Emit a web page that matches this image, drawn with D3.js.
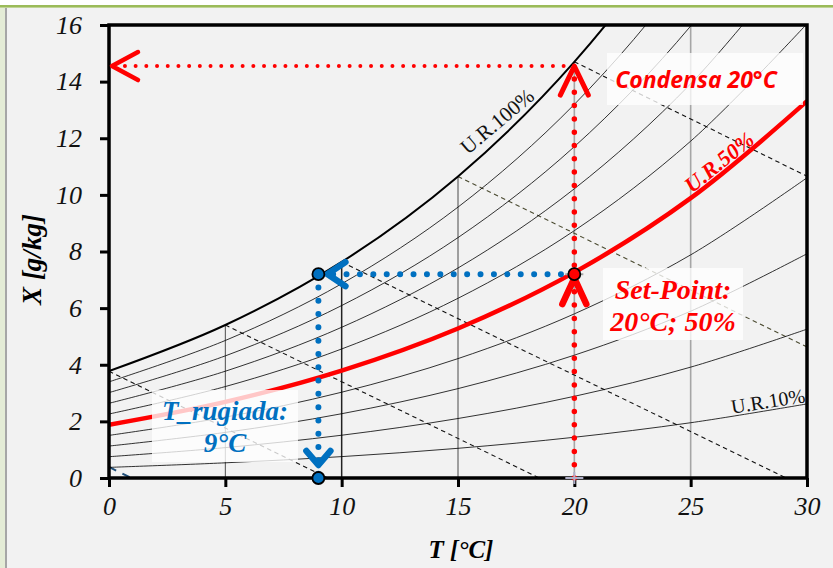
<!DOCTYPE html>
<html>
<head>
<meta charset="utf-8">
<script src="https://cdn.jsdelivr.net/npm/d3@7"></script>
<style>
body { margin: 0; background: #fff; }
</style>
</head>
<body>
<div id="chart"></div>
<script>
// temperatures (°C) at which the relative humidity curves are tabulated
const temps = [0, 5, 10, 15, 20, 25, 30];
const rhLevels = [10, 20, 30, 40, 50, 60, 70, 80, 90, 100];
// humidity ratio X [g/kg] of every U.R. curve at the temps above
const curveX = {
	10:  [0.375, 0.536, 0.755, 1.049, 1.439, 1.952, 2.617],
	20:  [0.752, 1.073, 1.511, 2.101, 2.885, 3.916, 5.257],
	30:  [1.128, 1.611, 2.270, 3.157, 4.338, 5.892, 7.920],
	40:  [1.505, 2.150, 3.030, 4.217, 5.797, 7.881, 10.604],
	50:  [1.882, 2.690, 3.793, 5.280, 7.263, 9.883, 13.312],
	60:  [2.260, 3.230, 4.557, 6.347, 8.736, 11.897, 16.043],
	70:  [2.638, 3.772, 5.323, 7.417, 10.215, 13.923, 18.798],
	80:  [3.016, 4.314, 6.091, 8.491, 11.702, 15.963, 21.576],
	90:  [3.396, 4.858, 6.860, 9.568, 13.196, 18.017, 24.379],
	100: [3.775, 5.403, 7.631, 10.650, 14.697, 20.084, 27.206]
};
const xTicks = [0, 5, 10, 15, 20, 25, 30];
const yTicks = [0, 2, 4, 6, 8, 10, 12, 14, 16];

// vertical iso-temperature lines, each stopping at the saturation curve
const isoT = [5, 10, 15, 20, 25];
const isoTop = [5.40, 7.63, 10.65, 14.70, 16];

// dashed enthalpy lines: start and end points [T, X]
const enthStart = [[0, 3.77], [5, 5.40], [10, 7.63], [15, 10.65], [20, 14.70], [0, 0.39]];
const enthEnd = [[9.4, 0], [18.5, 0], [29.1, 0], [30, 4.63], [30, 10.66], [0.95, 0]];

// process points [T, X]
const setPoint = [20, 7.2];
const dewPoint = [9, 7.2];
const dewBase = [9, 0];
const condensa = [20, 14.55];
const condensaAxis = [0, 14.55];

const width = 833, height = 568;
const margin = {top: 25, right: 26, bottom: 90, left: 109};

const svg = d3.select("#chart").append("svg")
	.attr("width", width)
	.attr("height", height);

// frame and background, like the spreadsheet chart area
svg.append("rect").attr("width", width).attr("height", height).attr("fill", "#ffffff");
svg.append("rect").attr("x", 0).attr("y", 6).attr("width", width).attr("height", height - 6).attr("fill", "#e4ecd6");
svg.append("rect").attr("x", 0).attr("y", 5).attr("width", width).attr("height", 2.5).attr("fill", "#9bbb59");
svg.append("rect").attr("x", 5).attr("y", 8).attr("width", width - 5).attr("height", height - 8).attr("fill", "#a6a6a6");
svg.append("rect").attr("x", 7).attr("y", 8).attr("width", width - 7).attr("height", height - 8).attr("fill", "#f2f2f2");

const x = d3.scaleLinear().domain([0, 30]).range([margin.left, width - margin.right]);
const y = d3.scaleLinear().domain([0, 16]).range([height - margin.bottom, margin.top]);

svg.append("clipPath").attr("id", "plotclip")
	.append("rect")
	.attr("x", x(0)).attr("y", y(16))
	.attr("width", x(30) - x(0)).attr("height", y(0) - y(16));

const plot = svg.append("g").attr("clip-path", "url(#plotclip)");

// iso-temperature lines
isoT.forEach(function (t, i) {
	plot.append("line")
		.attr("x1", x(t)).attr("x2", x(t))
		.attr("y1", y(0)).attr("y2", y(isoTop[i]))
		.attr("stroke", t >= 20 ? "#a6a6a6" : "#222")
		.attr("stroke-width", t == 10 ? 1.5 : (t >= 20 ? 1.6 : 0.8));
});

// enthalpy lines
enthStart.forEach(function (s, i) {
	const e = enthEnd[i];
	const last = i == enthStart.length - 1;
	plot.append("line")
		.attr("x1", x(s[0])).attr("y1", y(s[1]))
		.attr("x2", x(e[0])).attr("y2", y(e[1]))
		.attr("stroke", last ? "#1f4e79" : (i == 3 ? "#4a4a30" : "#111"))
		.attr("stroke-width", last ? 2 : 1.1)
		.attr("stroke-dasharray", last ? "8 7" : "4.5 3.5");
});

// relative humidity curves
const curveLine = d3.line()
	.x(function (d) { return x(d[0]); })
	.y(function (d) { return y(d[1]); })
	.curve(d3.curveCatmullRom.alpha(0.5));

rhLevels.forEach(function (rh) {
	const pts = temps.map(function (t, i) { return [t, curveX[rh][i]]; });
	plot.append("path")
		.attr("d", curveLine(pts))
		.attr("fill", "none")
		.attr("stroke", rh == 50 ? "#ff0000" : "#000")
		.attr("stroke-width", rh == 50 ? 4.5 : (rh == 100 ? 2 : 0.8));
});

// axes
const xAxis = d3.axisBottom(x).tickValues(xTicks).tickSize(9).tickFormat(d3.format("d"));
const yAxis = d3.axisLeft(y).tickValues(yTicks).tickSize(9).tickFormat(d3.format("d"));

const gx = svg.append("g").attr("transform", "translate(0," + y(0) + ")").call(xAxis);
const gy = svg.append("g").attr("transform", "translate(" + x(0) + ",0)").call(yAxis);

[gx, gy].forEach(function (g) {
	g.select(".domain").remove();
	g.selectAll(".tick line").attr("stroke", "#000").attr("stroke-width", 3);
	g.selectAll(".tick text")
		.attr("fill", "#111")
		.style("font-family", "'Liberation Serif', serif")
		.style("font-style", "italic")
		.style("font-size", "26px");
});
gx.selectAll(".tick text").attr("y", 19).attr("dy", "0.71em");
gy.selectAll(".tick text").attr("x", -27).attr("dy", "0.32em");

// plot border
svg.append("path")
	.attr("d", "M" + x(0) + "," + y(0) + "V" + y(16) + "H" + x(30) + "V" + y(0) + "Z")
	.attr("fill", "none")
	.attr("stroke", "#000")
	.attr("stroke-width", 3.5);

// axis titles
svg.append("text")
	.attr("transform", "translate(" + (x(0) - 68) + "," + ((y(0) + y(16)) / 2 + 8) + ") rotate(-90)")
	.attr("text-anchor", "middle")
	.style("font-family", "'Liberation Serif', serif")
	.style("font-style", "italic")
	.style("font-weight", "bold")
	.style("font-size", "27px")
	.text("X [g/kg]");

svg.append("text")
	.attr("x", (x(0) + x(30)) / 2 + 3)
	.attr("y", 558)
	.attr("text-anchor", "middle")
	.style("font-family", "'Liberation Serif', serif")
	.style("font-style", "italic")
	.style("font-weight", "bold")
	.style("font-size", "25px")
	.text("T [°C]");

// curve labels
function curveLabel(txt, cx, cy, angle, color, size, bold) {
	svg.append("text")
		.attr("transform", "translate(" + cx + "," + cy + ") rotate(" + angle + ")")
		.attr("text-anchor", "middle")
		.attr("dy", "0.35em")
		.attr("fill", color)
		.style("font-family", "'Liberation Serif', serif")
		.style("font-style", bold ? "italic" : "normal")
		.style("font-weight", bold ? "bold" : "normal")
		.style("font-size", size + "px")
		.text(txt);
}
curveLabel("U.R.100%", 497, 121, -40, "#111", 21, false);
curveLabel("U.R.50%", 719, 162, -39, "#ff0000", 22, true);
curveLabel("U.R.10%", 768, 401, -9, "#111", 20, false);

// dotted process lines
function dotted(a, b, color, w, gap) {
	svg.append("line")
		.attr("x1", x(a[0])).attr("y1", y(a[1]))
		.attr("x2", x(b[0])).attr("y2", y(b[1]))
		.attr("stroke", color)
		.attr("stroke-width", w)
		.attr("stroke-linecap", "round")
		.attr("stroke-dasharray", "0 " + gap);
}
dotted(condensa, condensaAxis, "#ff0000", 4, 10.7);
dotted([setPoint[0], 0], condensa, "#ff0000", 5.5, 13.3);
dotted(setPoint, dewPoint, "#0070c0", 6, 13.4);
dotted(dewPoint, dewBase, "#0070c0", 6, 13.3);

// open chevron arrow heads, tip at a data point
function chevron(p, dir, color, len, half, w, dx, dy) {
	const tx = x(p[0]) + (dx || 0), ty = y(p[1]) + (dy || 0);
	const rot = {left: 0, up: 90, right: 180, down: -90}[dir] * Math.PI / 180;
	function pt(u, v) {
		return [tx + u * Math.cos(rot) - v * Math.sin(rot), ty + u * Math.sin(rot) + v * Math.cos(rot)];
	}
	const a = pt(len, -half), b = pt(len, half);
	svg.append("path")
		.attr("d", "M" + a + "L" + tx + "," + ty + "L" + b)
		.attr("fill", "none")
		.attr("stroke", color)
		.attr("stroke-width", w)
		.attr("stroke-linecap", "round")
		.attr("stroke-linejoin", "round");
}
chevron(condensaAxis, "left", "#ff0000", 26, 14, 4.5, 3, 0);
chevron(condensa, "up", "#ff0000", 29, 14, 5, 0, 0);

// grey error-bar marks of the spreadsheet series
svg.append("path")
	.attr("d", "M" + (x(setPoint[0]) - 9) + "," + y(setPoint[1]) + "h18M" + x(setPoint[0]) + "," + y(setPoint[1]) + "v14")
	.attr("stroke", "#a6a6a6").attr("stroke-width", 2).attr("fill", "none");
svg.append("path")
	.attr("d", "M" + (x(setPoint[0]) - 9) + "," + y(0) + "h18M" + x(setPoint[0]) + "," + (y(0) - 6) + "v12")
	.attr("stroke", "#b0b0c8").attr("stroke-width", 2).attr("fill", "none");

chevron(setPoint, "up", "#ff0000", 26, 12, 6.5, 0, 4);
chevron(dewPoint, "left", "#0070c0", 18, 12, 6.5, 9, 0);
chevron(dewBase, "down", "#0070c0", 14, 12, 6.5, 0, -13);

// markers
[[setPoint, "#ff0000"], [dewPoint, "#0070c0"], [dewBase, "#0070c0"]].forEach(function (m) {
	svg.append("circle")
		.attr("cx", x(m[0][0])).attr("cy", y(m[0][1]))
		.attr("r", 6)
		.attr("fill", m[1])
		.attr("stroke", "#000")
		.attr("stroke-width", 1.8);
});

// annotation boxes
function noteBox(lines, cx, top, w, h, color, family, size, lineGap, shift, textDx) {
	svg.append("rect")
		.attr("x", cx - w / 2).attr("y", top)
		.attr("width", w).attr("height", h)
		.attr("fill", "#ffffff").attr("opacity", 0.78);
	const t = svg.append("text")
		.attr("text-anchor", "middle")
		.attr("fill", color)
		.style("font-family", family)
		.style("font-style", "italic")
		.style("font-weight", "bold")
		.style("font-size", size + "px");
	lines.forEach(function (l, i) {
		t.append("tspan")
			.attr("x", cx + (textDx || 0))
			.attr("y", top + h / 2 + (i - (lines.length - 1) / 2) * lineGap + (shift || 0))
			.attr("dy", "0.35em")
			.text(l);
	});
}
noteBox(["Condensa 20°C"], 705, 53, 196, 52, "#ff0000", "'Open Sans', sans-serif", 23, 0, 1, -9);
noteBox(["Set-Point:", "20°C; 50%"], 673, 268, 140, 72, "#ff0000", "'Liberation Serif', serif", 28, 32, 1, 0);
noteBox(["T_rugiada:", "9°C"], 225, 390, 146, 72, "#0070c0", "'Liberation Serif', serif", 27, 32, 1, 0);
</script>
</body>
</html>
